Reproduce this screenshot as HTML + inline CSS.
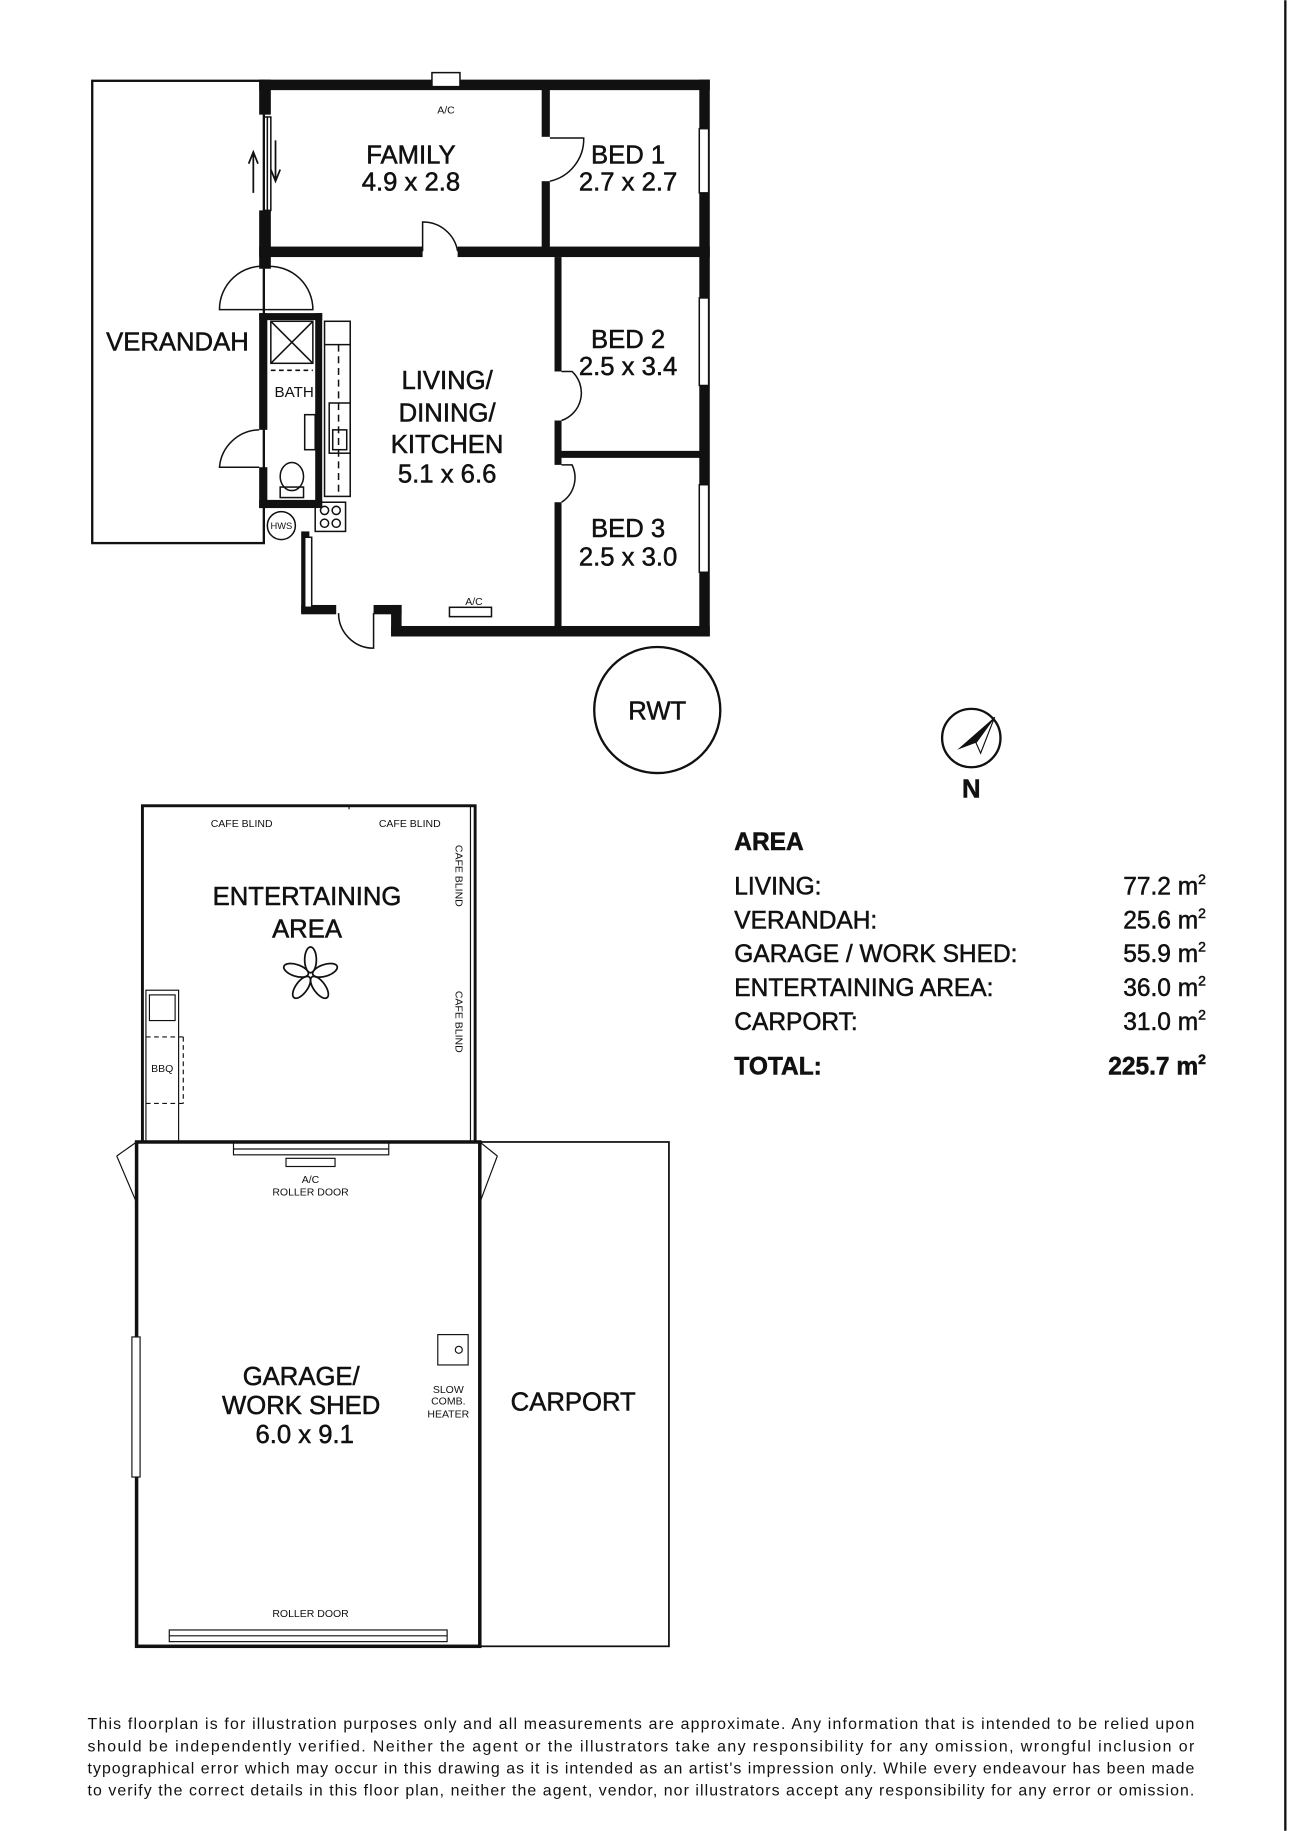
<!DOCTYPE html>
<html><head><meta charset="utf-8"><style>
html,body{margin:0;padding:0;background:#fff}
svg{display:block}
text{font-family:"Liberation Sans",sans-serif;fill:#111}
.b text{stroke:#111;stroke-width:0.45}
</style></head><body>
<svg width="1290" height="1831" viewBox="0 0 1105 1568" xmlns="http://www.w3.org/2000/svg">
<rect width="1105" height="1568" fill="#fff"/>
<line x1="1101" y1="0" x2="1101" y2="1568" stroke="#111" stroke-width="2"/>
<rect x="79" y="69" width="147" height="396" fill="none" stroke="#111" stroke-width="2"/>
<g fill="#111">
<rect x="222" y="68" width="386" height="9"/>
<rect x="599" y="68" width="9" height="477"/>
<rect x="335" y="536" width="273" height="9"/>
<rect x="335" y="518" width="9" height="27"/>
<rect x="320" y="518" width="24" height="8"/>
<rect x="258" y="518" width="30" height="8"/>
<rect x="258" y="455" width="7" height="70"/>
<rect x="222" y="68" width="10" height="30"/>
<rect x="222" y="180" width="10" height="50"/>
<rect x="222" y="211" width="140" height="9"/>
<rect x="392" y="211" width="216" height="9"/>
<rect x="464" y="72" width="7" height="45"/>
<rect x="464" y="155" width="7" height="60"/>
<rect x="475" y="220" width="6" height="98"/>
<rect x="475" y="360" width="6" height="38"/>
<rect x="475" y="430" width="6" height="110"/>
<rect x="478" y="386" width="126" height="6"/>
<rect x="222" y="268" width="7" height="100"/>
<rect x="222" y="400" width="7" height="35"/>
<rect x="222" y="268" width="54" height="6"/>
<rect x="270" y="268" width="6" height="165"/>
<rect x="222" y="428" width="54" height="7"/>
</g>
<g fill="none" stroke="#111" stroke-width="1.3">
<rect x="226" y="100" width="6" height="80"/><line x1="229" y1="100" x2="229" y2="180"/>
<rect x="599" y="110" width="8" height="55" fill="#fff"/>
<rect x="599" y="255" width="8" height="75" fill="#fff"/>
<rect x="599" y="415" width="8" height="75" fill="#fff"/>
<rect x="370" y="62" width="24" height="12" fill="#fff"/>
<rect x="385" y="520" width="36" height="8" fill="#fff"/>
<rect x="261" y="460" width="6" height="60" fill="#fff"/>
<path d="M362 215 V190 A30 30 0 0 1 392 215"/>
<path d="M471 118 H500 A37 37 0 0 1 471 155"/>
<path d="M481 318 H490 A25 25 0 0 1 481 360"/>
<path d="M481 398 H490 A25 25 0 0 1 481 430"/>
<path d="M229 265 H188 A37 37 0 0 1 229 228"/>
<path d="M229 265 H268 A37 37 0 0 0 229 228"/>
<path d="M222 368 A35 35 0 0 0 188 400 H222"/>
<path d="M290 525 A30 30 0 0 0 320 555 V525"/>
<rect x="232" y="275" width="36" height="36"/><line x1="232" y1="275" x2="268" y2="311"/><line x1="268" y1="275" x2="232" y2="311"/>
<line x1="232" y1="317" x2="268" y2="317" stroke-dasharray="4,3"/>
<ellipse cx="250" cy="408" rx="10" ry="12"/><rect x="240" y="417" width="20" height="9"/>
<rect x="261" y="355" width="9" height="30"/>
<rect x="278" y="275" width="22" height="150"/>
<line x1="278" y1="295" x2="300" y2="295"/>
<line x1="290" y1="295" x2="290" y2="425" stroke-dasharray="6,4"/>
<rect x="282" y="345" width="18" height="43"/><rect x="285" y="368" width="12" height="17"/>
<rect x="270" y="430" width="26" height="25"/>
<circle cx="278" cy="437" r="3.5"/><circle cx="288" cy="437" r="3.5"/><circle cx="278" cy="448" r="3.5"/><circle cx="288" cy="448" r="3.5"/>
<circle cx="241" cy="450" r="12"/>
<circle cx="563" cy="608" r="54" stroke-width="2"/>
<circle cx="832" cy="632" r="25" stroke-width="2"/>
</g>
<polygon points="852,614 820,642 836,636" fill="#111"/>
<polygon points="852,614 836,636 840,645" fill="#fff" stroke="#111"/>
<path d="M217 165 V130 M213 140 L217 130 L221 140 M236 120 V155 M232 145 L236 155 L240 145" stroke="#111" stroke-width="1.5" fill="none"/>

<g font-size="22" text-anchor="middle" class="b">
<text x="352" y="140">FAMILY</text><text x="352" y="163">4.9 x 2.8</text>
<text x="538" y="140">BED 1</text><text x="538" y="163">2.7 x 2.7</text>
<text x="538" y="298">BED 2</text><text x="538" y="321">2.5 x 3.4</text>
<text x="538" y="460">BED 3</text><text x="538" y="484">2.5 x 3.0</text>
<text x="383" y="333">LIVING/</text><text x="383" y="361">DINING/</text><text x="383" y="388">KITCHEN</text><text x="383" y="413">5.1 x 6.6</text>
<text x="152" y="300">VERANDAH</text>
<text x="563" y="616">RWT</text>
<text x="832" y="683" font-weight="bold">N</text>
<text x="263" y="775">ENTERTAINING</text><text x="263" y="803">AREA</text>
<text x="258" y="1186">GARAGE/</text><text x="258" y="1211">WORK SHED</text><text x="261" y="1236">6.0 x 9.1</text>
<text x="491" y="1208">CARPORT</text>
</g>
<g font-size="9" text-anchor="middle">
<text x="382" y="97">A/C</text><text x="406" y="518">A/C</text>
<text x="252" y="340" font-size="13">BATH</text>
<text x="241" y="453" font-size="8">HWS</text>
<text x="207" y="708">CAFE BLIND</text><text x="351" y="708">CAFE BLIND</text>
<text x="266" y="1013">A/C</text><text x="266" y="1024">ROLLER DOOR</text>
<text x="266" y="1385">ROLLER DOOR</text>
<text x="384" y="1193">SLOW</text><text x="384" y="1203">COMB.</text><text x="384" y="1214">HEATER</text>
<text x="139" y="918">BBQ</text>
<text transform="translate(390,750) rotate(90)">CAFE BLIND</text>
<text transform="translate(390,875) rotate(90)">CAFE BLIND</text>
</g>
<g fill="none" stroke="#111">
<rect x="122" y="690" width="285" height="288" stroke-width="2.5"/>
<line x1="403" y1="690" x2="403" y2="978"/>
<line x1="299" y1="693" x2="299" y2="690"/>
<rect x="125" y="848" width="28" height="130"/>
<rect x="128" y="852" width="22" height="22"/>
<line x1="125" y1="888" x2="158" y2="888" stroke-dasharray="4,3"/><line x1="125" y1="945" x2="158" y2="945" stroke-dasharray="4,3"/><line x1="157" y1="888" x2="157" y2="945" stroke-dasharray="4,3"/>
<g transform="translate(266,835)" stroke-width="1.5">
<ellipse cx="0" cy="-13" rx="5" ry="11"/><ellipse cx="0" cy="-13" rx="5" ry="11" transform="rotate(72)"/><ellipse cx="0" cy="-13" rx="5" ry="11" transform="rotate(144)"/><ellipse cx="0" cy="-13" rx="5" ry="11" transform="rotate(216)"/><ellipse cx="0" cy="-13" rx="5" ry="11" transform="rotate(288)"/>
</g>
<rect x="117" y="978" width="294" height="432" stroke-width="3"/>
<rect x="411" y="978" width="162" height="432" stroke-width="1.5"/>
<rect x="200" y="979" width="133" height="10" fill="#fff"/><line x1="200" y1="984" x2="333" y2="984"/>
<rect x="245" y="992" width="42" height="7"/>
<rect x="145" y="1396" width="238" height="10" fill="#fff"/><line x1="145" y1="1401" x2="383" y2="1401"/>
<rect x="113" y="1145" width="7" height="120" fill="#fff"/>
<rect x="375" y="1143" width="26" height="26"/><circle cx="393" cy="1156" r="3"/>
<line x1="117" y1="978" x2="100" y2="990"/><line x1="100" y1="990" x2="117" y2="1030"/>
<line x1="411" y1="978" x2="426" y2="990"/><line x1="426" y1="990" x2="411" y2="1030"/>
</g>
<g font-size="21" class="b">
<text x="629" y="728" font-weight="bold">AREA</text>
<text x="629" y="766">LIVING:</text><text x="629" y="795">VERANDAH:</text><text x="629" y="824">GARAGE / WORK SHED:</text><text x="629" y="853">ENTERTAINING AREA:</text><text x="629" y="882">CARPORT:</text>
<text x="629" y="920" font-weight="bold">TOTAL:</text>
</g>
<g font-size="21" text-anchor="end" class="b">
<text x="1033" y="766">77.2 m<tspan font-size="12" dy="-9">2</tspan></text>
<text x="1033" y="795">25.6 m<tspan font-size="12" dy="-9">2</tspan></text>
<text x="1033" y="824">55.9 m<tspan font-size="12" dy="-9">2</tspan></text>
<text x="1033" y="853">36.0 m<tspan font-size="12" dy="-9">2</tspan></text>
<text x="1033" y="882">31.0 m<tspan font-size="12" dy="-9">2</tspan></text>
<text x="1033" y="920" font-weight="bold">225.7 m<tspan font-size="12" dy="-9">2</tspan></text>
</g>
<g font-size="13.6">
<text x="75" y="1481" textLength="948">This floorplan is for illustration purposes only and all measurements are approximate. Any information that is intended to be relied upon</text>
<text x="75" y="1500" textLength="948">should be independently verified. Neither the agent or the illustrators take any responsibility for any omission, wrongful inclusion or</text>
<text x="75" y="1519" textLength="948">typographical error which may occur in this drawing as it is intended as an artist's impression only. While every endeavour has been made</text>
<text x="75" y="1538" textLength="948">to verify the correct details in this floor plan, neither the agent, vendor, nor illustrators accept any responsibility for any error or omission.</text>
</g>
</svg>
</body></html>
